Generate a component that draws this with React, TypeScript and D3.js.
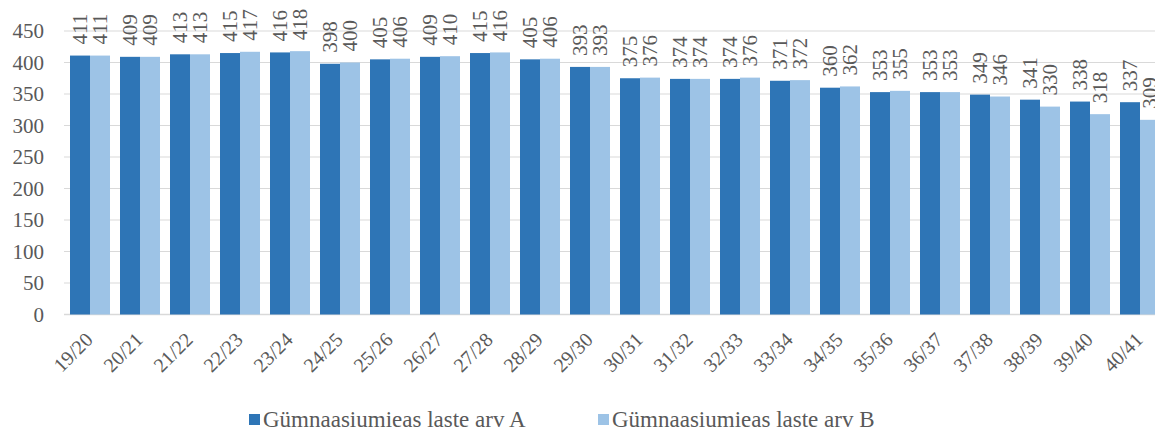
import React, { useEffect } from "react";
import * as d3 from "d3";

const categories = [
  "19/20", "20/21", "21/22", "22/23", "23/24", "24/25", "25/26", "26/27", "27/28", "28/29", "29/30",
  "30/31", "31/32", "32/33", "33/34", "34/35", "35/36", "36/37", "37/38", "38/39", "39/40", "40/41",
];
const seriesA = [411, 409, 413, 415, 416, 398, 405, 409, 415, 405, 393, 375, 374, 374, 371, 360, 353, 353, 349, 341, 338, 337];
const seriesB = [411, 409, 413, 417, 418, 400, 406, 410, 416, 406, 393, 376, 374, 376, 372, 362, 355, 353, 346, 330, 318, 309];
const seriesNames = ["Gümnaasiumieas laste arv A", "Gümnaasiumieas laste arv B"];
const yTicks = [0, 50, 100, 150, 200, 250, 300, 350, 400, 450];

const colors = ["#2E75B6", "#9DC3E6"];
const textStyle = { fontFamily: "'Liberation Serif', 'Times New Roman', serif" };
const textColor = "#595959";

const App: React.FC = () => {
  useEffect(() => {
    document.body.style.margin = "0";
  }, []);

  const width = 1155;
  const height = 431;
  const left = 65;
  const step = 50;

  const x = d3
    .scaleBand<string>()
    .domain(categories)
    .range([left, left + step * categories.length])
    .paddingInner(0.2)
    .paddingOuter(0.1);
  const inner = d3.scaleBand<number>().domain([0, 1]).range([0, x.bandwidth()]);
  const y = d3.scaleLinear().domain([0, 450]).range([314.5, 31]);

  const series = [seriesA, seriesB];

  return (
    <svg width={width} height={height} style={{ display: "block" }}>
      {/* gridlines + y labels */}
      {yTicks.map((t) => (
        <g key={t}>
          <line x1={64} x2={width} y1={y(t)} y2={y(t)} stroke="#D9D9D9" strokeWidth={t === 0 ? 1.5 : 1} />
          <text x={44} y={y(t)} dy="0.35em" textAnchor="end" fontSize={21} style={textStyle} fill={textColor}>
            {t}
          </text>
        </g>
      ))}

      {/* bars */}
      {series.map((vals, si) =>
        vals.map((v, i) => (
          <rect
            key={`${si}-${i}`}
            x={(x(categories[i]) ?? 0) + (inner(si) ?? 0)}
            y={y(v)}
            width={inner.bandwidth()}
            height={y(0) - y(v)}
            fill={colors[si]}
          />
        ))
      )}

      {/* data labels */}
      {series.map((vals, si) =>
        vals.map((v, i) => {
          const cx = (x(categories[i]) ?? 0) + (inner(si) ?? 0) + inner.bandwidth() / 2;
          const cy = y(v) - 11;
          return (
            <text
              key={`l-${si}-${i}`}
              transform={`translate(${cx},${cy}) rotate(-90)`}
              dy="0.35em"
              textAnchor="start"
              fontSize={21}
              style={textStyle}
              fill={textColor}
            >
              {v}
            </text>
          );
        })
      )}

      {/* x labels */}
      {categories.map((c) => {
        const cx = (x(c) ?? 0) + x.bandwidth() / 2;
        return (
          <text
            key={c}
            transform={`translate(${cx + 4},${341}) rotate(-45)`}
            textAnchor="end"
            fontSize={20}
            style={textStyle}
            fill={textColor}
          >
            {c}
          </text>
        );
      })}

      {/* legend */}
      {seriesNames.map((name, i) => {
        const lx = [249, 598][i];
        return (
          <g key={name}>
            <rect x={lx} y={414} width={11} height={11} fill={colors[i]} />
            <text x={lx + 14} y={427} fontSize={23} style={textStyle} fill={textColor}>
              {name}
            </text>
          </g>
        );
      })}
    </svg>
  );
};

export default App;
